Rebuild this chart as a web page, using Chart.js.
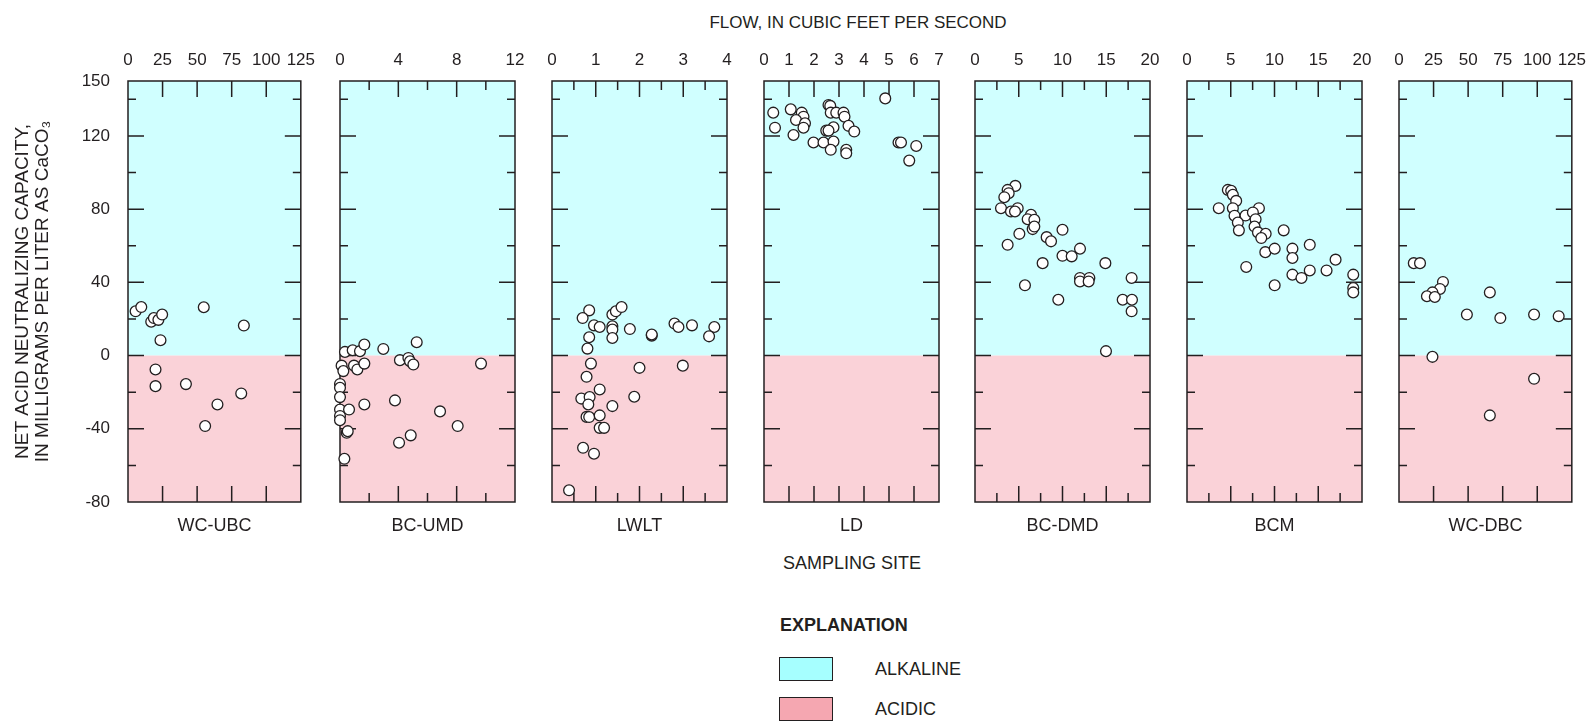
<!DOCTYPE html>
<html>
<head>
<meta charset="utf-8">
<script src="https://cdn.jsdelivr.net/npm/chart.js@4.4.1/dist/chart.umd.min.js"></script>
<style>
  body { margin: 0; background: #fff; }
  #wrap {
    position: relative; width: 1592px; height: 723px; overflow: hidden;
    font-family: 'Liberation Sans', Arial, sans-serif; color: #231f20;
  }
  #wrap canvas { position: absolute; top: 0; }
  .lbl { position: absolute; font-size: 18px; line-height: 1; white-space: nowrap; }
  .center { transform: translate(-50%, -50%); }
  .mid { transform: translateY(-50%); }
  .box { position: absolute; width: 52px; height: 22px; border: 1.5px solid #231f20; }
</style>
</head>
<body>
<div id="wrap">
  <div class="lbl center" style="left:858px; top:22px; font-size:17px;">FLOW, IN CUBIC FEET PER SECOND</div>
  <div class="lbl center" style="left:852px; top:563px;">SAMPLING SITE</div>
  <div class="lbl mid" style="left:780px; top:625px; font-weight:bold;">EXPLANATION</div>
  <div class="box" style="left:779px; top:657px; background:#a6ffff;"></div>
  <div class="lbl mid" style="left:875px; top:669px;">ALKALINE</div>
  <div class="box" style="left:779px; top:697px; background:#f5a7b1;"></div>
  <div class="lbl mid" style="left:875px; top:709px;">ACIDIC</div>
</div>
<script>
// sampling sites, left to right
const sites = ['WC-UBC', 'BC-UMD', 'LWLT', 'LD', 'BC-DMD', 'BCM', 'WC-DBC'];

// flow axis per site: max, labelled step, minor tick step
const flowMax   = [125, 12, 4, 7, 20, 20, 125];
const flowStep  = [25, 4, 1, 1, 5, 5, 25];
const flowMinor = [25, 2, 0.5, 1, 2.5, 2.5, 25];

// net acid neutralizing capacity axis
const yTickLabels = [150, 120, 80, 40, 0, -40, -80];

// flow (ft3/s) and net ANC (mg/L as CaCO3) for each site
const wcUbcFlow = [5.5, 9.6, 16.8, 18.7, 22, 24.7, 23.5, 54.8, 83.8, 19.9, 19.9, 41.9, 81.9, 64.7, 55.8];
const wcUbcAnc  = [24.2, 26.5, 18.5, 20.5, 19.5, 22.4, 8.4, 26.4, 16.4, -7.6, -16.7, -15.6, -20.7, -26.7, -38.5];

const bcUmdFlow = [0.34, 0.87, 1.37, 1.67, 2.97, 5.26, 0.11, 0.23, 0.96, 1.19, 1.67, 4.11, 4.69, 4.8, 5.03, 9.67,
  0, 0, 0, 0, 0, 0, 0.62, 1.67, 3.77, 6.86, 8.07, 4.85, 4.05, 0.46, 0.53, 0.3];
const bcUmdAnc  = [2.0, 2.9, 2.4, 6.0, 3.6, 7.3, -5.5, -8.5, -5.5, -7.6, -4.4, -2.5, -1.3, -3.1, -4.9, -4.4,
  -15.5, -17.6, -22.7, -29.5, -33, -35.3, -29.5, -26.7, -24.5, -30.5, -38.5, -43.6, -47.6, -42.2, -41.3, -56.4];

const lwltFlow = [0.85, 0.7, 0.96, 1.09, 0.85, 0.81, 1.38, 1.46, 1.59, 1.38, 1.38, 1.38, 1.78, 2.28, 2.28, 2.8, 2.89,
  3.2, 3.71, 3.59, 0.89, 0.79, 2.0, 2.99, 1.09, 0.67, 0.86, 0.83, 1.88, 1.38, 0.79, 0.85, 1.09, 1.09, 1.19, 0.71, 0.96, 0.39];
const lwltAnc  = [24.7, 20.5, 16.5, 15.6, 10, 3.8, 22.4, 24.2, 26.5, 16, 14.2, 9.6, 14.5, 10.9, 11.5, 17.5, 15.6,
  16.5, 15.6, 10.5, -4.4, -11.6, -6.7, -5.5, -18.5, -23.5, -22.7, -26.7, -22.5, -27.6, -33.5, -33.6, -32.7, -39.5, -39.5, -50.4, -53.6, -73.6];

const ldFlow = [0.37, 0.44, 1.07, 1.51, 1.58, 1.28, 1.64, 1.58, 1.18, 1.98, 2.58, 2.65, 2.67, 2.89, 3.18, 3.22,
  2.78, 2.49, 2.58, 2.38, 2.78, 2.67, 3.29, 3.29, 3.38, 3.61, 4.85, 5.38, 5.48, 6.09, 5.81];
const ldAnc  = [132.7, 124.5, 134.5, 132.7, 130.5, 128.7, 126.9, 124.5, 120.5, 116.4, 136.9, 136.4, 132.7, 132.7, 132.7, 130.5,
  124.7, 122.9, 122.9, 116.4, 116.9, 112.4, 112.4, 110.5, 125.5, 122.4, 140.5, 116.4, 116.4, 114.5, 106.5];

const bcDmdFlow = [4.61, 3.73, 3.85, 3.35, 2.97, 4.11, 4.88, 4.57, 6.4, 6.02, 6.78, 6.59, 6.78, 5.07, 8.19, 8.69, 10.0,
  3.73, 10.0, 11.05, 12.0, 7.73, 14.9, 12.0, 12.0, 13.07, 12.99, 5.71, 9.52, 17.9, 16.88, 17.94, 17.9, 14.97];
const bcDmdAnc  = [92.7, 90.5, 88.7, 86.5, 80.5, 78.7, 80.5, 78.7, 76.9, 74.5, 74.2, 69.1, 70.5, 66.5, 64.7, 62.4, 68.7,
  60.5, 54.5, 54.2, 58.4, 50.5, 50.5, 42.4, 40.5, 42.4, 40.5, 38.4, 30.5, 42.4, 30.5, 30.5, 24.2, 2.4];

const bcmFlow = [4.67, 5.05, 5.24, 5.62, 3.63, 5.24, 8.22, 5.43, 6.69, 7.53, 7.84, 5.81, 5.93, 7.72, 8.11, 8.99, 8.49,
  11.05, 8.95, 10.02, 12.05, 12.05, 14.03, 16.98, 15.95, 14.03, 12.05, 13.08, 6.77, 10.02, 19.0, 19.0, 19.0];
const bcmAnc  = [90.5, 90, 87.8, 84.5, 80.5, 80.5, 80.5, 76.4, 76.5, 78.2, 74.5, 72.7, 68.4, 70.5, 67.3, 66.5, 64.2,
  68.4, 56.5, 58.4, 58.4, 53.3, 60.5, 52.4, 46.5, 46.5, 44.2, 42.4, 48.4, 38.4, 44.2, 36.9, 34.5];

const wcDbcFlow = [10.7, 15.2, 31.8, 29.6, 24.2, 20.2, 25.9, 65.7, 49.1, 73.3, 97.7, 115.5, 24.2, 97.7, 65.7];
const wcDbcAnc  = [50.5, 50.5, 40.2, 36.4, 34.5, 32.4, 32, 34.5, 22.4, 20.5, 22.4, 21.5, -0.7, -12.7, -32.7];

const flows = [wcUbcFlow, bcUmdFlow, lwltFlow, ldFlow, bcDmdFlow, bcmFlow, wcDbcFlow];
const ancs  = [wcUbcAnc, bcUmdAnc, lwltAnc, ldAnc, bcDmdAnc, bcmAnc, wcDbcAnc];

// layout
const PLOT_LEFT = 128, PANEL_STEP = 211.85, PLOT_W = 175;
const PLOT_TOP = 81, PLOT_BOTTOM = 502, CANVAS_H = 540, SIDE_PAD = 22;
const FONT = "'Liberation Sans', Arial, sans-serif";
const INK = '#231f20';
const ALK = '#d0ffff', ACID = '#fad2d8';

// background bands, frame and inward tick marks
const panelPlugin = {
  id: 'panel',
  beforeDatasetsDraw(chart, args, opts) {
    const { ctx, chartArea: a } = chart;
    const x = chart.scales.x, y = chart.scales.y;
    const y0 = y.getPixelForValue(0);
    ctx.save();
    ctx.fillStyle = ALK;
    ctx.fillRect(a.left, a.top, a.width, y0 - a.top);
    ctx.fillStyle = ACID;
    ctx.fillRect(a.left, y0, a.width, a.bottom - y0);

    ctx.strokeStyle = INK;
    ctx.lineWidth = 1.5;
    ctx.beginPath();
    for (let v = y.min + 20; v < y.max; v += 20) {
      const py = y.getPixelForValue(v);
      const len = v % 40 === 0 ? 16 : 8;
      ctx.moveTo(a.left, py); ctx.lineTo(a.left + len, py);
      ctx.moveTo(a.right, py); ctx.lineTo(a.right - len, py);
    }
    for (let k = 1; k * opts.minor < opts.max - 1e-9; k++) {
      const v = k * opts.minor;
      const r = v / opts.step;
      const len = Math.abs(r - Math.round(r)) < 1e-6 ? 16 : 9;
      const px = x.getPixelForValue(v);
      ctx.moveTo(px, a.top); ctx.lineTo(px, a.top + len);
      ctx.moveTo(px, a.bottom); ctx.lineTo(px, a.bottom - len);
    }
    ctx.stroke();
    ctx.strokeRect(a.left, a.top, a.width, a.height);
    ctx.restore();
  }
};

const wrap = document.getElementById('wrap');

sites.forEach((site, i) => {
  const first = i === 0;
  const left = PLOT_LEFT + Math.round(i * PANEL_STEP);
  const padL = first ? left : SIDE_PAD;
  const canvas = document.createElement('canvas');
  canvas.width = padL + PLOT_W + SIDE_PAD;
  canvas.height = CANVAS_H;
  canvas.style.left = (left - padL) + 'px';
  wrap.appendChild(canvas);

  new Chart(canvas, {
    type: 'scatter',
    data: {
      datasets: [{
        data: flows[i].map((f, k) => ({ x: f, y: ancs[i][k] })),
        xAxisID: 'x',
        yAxisID: 'y',
        pointRadius: 5.4,
        pointHoverRadius: 5.4,
        pointBackgroundColor: '#ffffff',
        pointBorderColor: INK,
        pointBorderWidth: 1.3,
        clip: false
      }]
    },
    options: {
      responsive: false,
      animation: false,
      events: [],
      layout: { padding: { left: first ? 0 : SIDE_PAD, right: SIDE_PAD, top: 0, bottom: 0 } },
      plugins: {
        legend: { display: false },
        tooltip: { enabled: false },
        panel: { max: flowMax[i], step: flowStep[i], minor: flowMinor[i] }
      },
      scales: {
        x: {
          type: 'linear',
          position: 'top',
          min: 0,
          max: flowMax[i],
          grid: { display: false, drawTicks: false },
          border: { display: false },
          ticks: {
            stepSize: flowStep[i],
            autoSkip: false,
            maxRotation: 0,
            padding: 10,
            color: INK,
            font: { family: FONT, size: 17 }
          },
          afterFit: s => { s.height = PLOT_TOP; }
        },
        xb: {
          type: 'linear',
          position: 'bottom',
          min: 0,
          max: flowMax[i],
          grid: { display: false, drawTicks: false },
          border: { display: false },
          ticks: { display: false },
          title: {
            display: true,
            text: site,
            color: INK,
            font: { family: FONT, size: 18 },
            padding: { top: 0, bottom: 3 }
          },
          afterFit: s => { s.height = CANVAS_H - PLOT_BOTTOM; }
        },
        y: {
          type: 'linear',
          display: first,
          min: -80,
          max: 150,
          grid: { display: false, drawTicks: false },
          border: { display: false },
          afterBuildTicks: s => { s.ticks = yTickLabels.map(v => ({ value: v })); },
          ticks: { padding: 18, color: INK, font: { family: FONT, size: 17 } },
          title: {
            display: true,
            text: ['NET ACID NEUTRALIZING CAPACITY,', 'IN MILLIGRAMS PER LITER AS CaCO\u2083'],
            color: INK,
            font: { family: FONT, size: 19, lineHeight: 1.05 },
            padding: { top: 13, bottom: 0 }
          },
          afterFit: s => { s.width = first ? PLOT_LEFT : 0; }
        }
      }
    },
    plugins: [panelPlugin]
  });
});
</script>
</body>
</html>
